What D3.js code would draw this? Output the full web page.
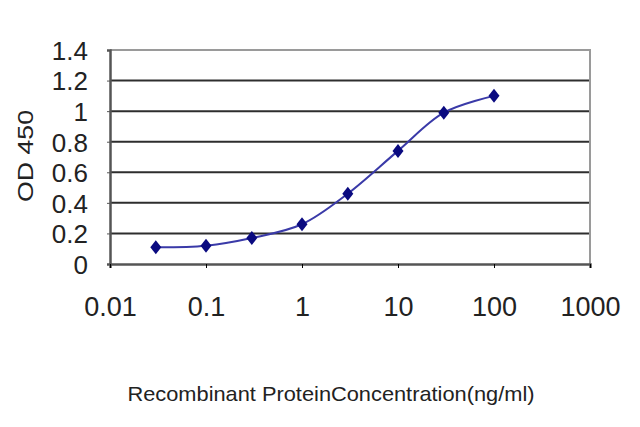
<!DOCTYPE html>
<html>
<head>
<meta charset="utf-8">
<script src="https://cdn.jsdelivr.net/npm/d3@7"></script>
<style>
  body { margin: 0; background: #fff; }
  svg text { font-family: "Liberation Sans", Arial, sans-serif; fill: #222; }
  svg .tick text { font-family: "Liberation Sans Narrow", "Arial Narrow", "Liberation Sans", sans-serif; }
</style>
</head>
<body>
<svg id="chart" width="640" height="427"></svg>
<script>
// concentrations (ng/ml) and measured OD 450
const concentrations = [0.03, 0.1, 0.3, 1, 3, 10, 30, 100];
const odValues = [0.11, 0.12, 0.17, 0.26, 0.46, 0.74, 0.99, 1.10];
const xTicks = [0.01, 0.1, 1, 10, 100, 1000];
const xTickLabels = ["0.01", "0.1", "1", "10", "100", "1000"];
const yTicks = [0, 0.2, 0.4, 0.6, 0.8, 1, 1.2, 1.4];
const yTickLabels = ["0", "0.2", "0.4", "0.6", "0.8", "1", "1.2", "1.4"];

const margin = { top: 50, right: 50, bottom: 163, left: 110 };
const width = 640, height = 427;

const svg = d3.select("#chart");

const x = d3.scaleLog().domain([0.01, 1000]).range([margin.left, width - margin.right]);
const y = d3.scaleLinear().domain([0, 1.4]).range([height - margin.bottom, margin.top]);

// gridlines
svg.append("g")
  .selectAll("line")
  .data(yTicks.filter(d => d > 0 && d < 1.4))
  .enter().append("line")
  .attr("x1", x(0.01))
  .attr("x2", x(1000))
  .attr("y1", d => y(d))
  .attr("y2", d => y(d))
  .attr("stroke", "#2e2e2e")
  .attr("stroke-width", 2);

// frame top/right
svg.append("path")
  .attr("d", `M${x(0.01)},${y(1.4)}H${x(1000)}V${y(0)}`)
  .attr("fill", "none")
  .attr("stroke", "#9a9a9a")
  .attr("stroke-width", 2);

// y axis
svg.append("g")
  .attr("transform", `translate(${x(0.01)},0)`)
  .call(d3.axisLeft(y).tickValues(yTicks).tickSize(3).tickFormat((d, i) => yTickLabels[i]))
  .call(g => g.select(".domain").attr("stroke", "#555").attr("stroke-width", 2.5))
  .call(g => g.selectAll(".tick line").attr("stroke", "#555"))
  .call(g => g.selectAll(".tick text")
    .attr("x", -22)
    .attr("dy", "0.36em")
    .style("font-size", "26px"));

// x axis
svg.append("g")
  .attr("transform", `translate(0,${y(0)})`)
  .call(d3.axisBottom(x).tickValues(xTicks).tickSize(4).tickFormat((d, i) => xTickLabels[i]))
  .call(g => g.select(".domain").attr("stroke", "#555").attr("stroke-width", 2.5))
  .call(g => g.selectAll(".tick text")
    .attr("y", 33)
    .attr("dy", "0.71em")
    .style("font-size", "27px"));

// axis titles
svg.append("text")
  .attr("x", 331)
  .attr("y", 401)
  .attr("text-anchor", "middle")
  .attr("textLength", 407)
  .attr("lengthAdjust", "spacingAndGlyphs")
  .style("font-size", "21px")
  .text("Recombinant ProteinConcentration(ng/ml)");

svg.append("text")
  .attr("transform", "translate(33,156) rotate(-90)")
  .attr("text-anchor", "middle")
  .attr("textLength", 92)
  .attr("lengthAdjust", "spacingAndGlyphs")
  .style("font-size", "22px")
  .text("OD 450");

// curve
const line = d3.line()
  .x((d, i) => x(concentrations[i]))
  .y(d => y(d))
  .curve(d3.curveCatmullRom.alpha(0.5));

svg.append("path")
  .datum(odValues)
  .attr("d", line)
  .attr("fill", "none")
  .attr("stroke", "#3a3aa8")
  .attr("stroke-width", 2);

// diamond markers
svg.append("g")
  .selectAll("path")
  .data(odValues)
  .enter().append("path")
  .attr("transform", (d, i) => `translate(${x(concentrations[i])},${y(d)})`)
  .attr("d", "M0,-7L5.5,0L0,7L-5.5,0Z")
  .attr("fill", "#0a0a80");
</script>
</body>
</html>
